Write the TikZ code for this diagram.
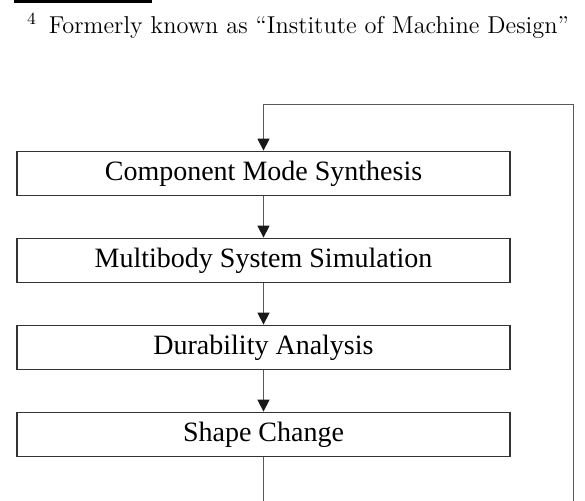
\documentclass[tikz,border=0pt]{standalone}
\usepackage{fontspec}
\newfontfamily\boxfont{Liberation Serif}
\usetikzlibrary{arrows.meta,
  positioning
}
\tikzstyle{stepbox} = [draw=black!80, line width=0.8, minimum width=246.5pt,
  minimum height=22pt, inner sep=0,
  font=\boxfont\fontsize{14}{16}\selectfont]
\tikzstyle{flow} = [draw=black!65, line width=0.7,
  -{Triangle[length=6pt,width=6pt,color=black!90]}]

\begin{document}
\begin{tikzpicture}[x=0.5pt, y=-0.5pt, node distance=20.7pt]
  \useasboundingbox (0,0) rectangle (585,501);

  % footnote
  \draw[line width=1.2] (14,1.5) -- (151.7,1.5);
  \path (26.7,33.3) node[anchor=base west, inner sep=0] (fnote)
  {\fontsize{12.2}{14}\selectfont\textsuperscript{4}\hspace{6pt}Formerly known as ``Institute of Machine Design''};

  % process chain
  \node[stepbox] (cms) at (263.5,173.4) {Component Mode Synthesis};
  \node[stepbox, below=of cms] (mbs) {Multibody System Simulation};
  \node[stepbox, below=of mbs] (dur) {Durability Analysis};
  \node[stepbox, below=of dur] (shape) {Shape Change};

  \draw[flow] (cms) -- (mbs);
  \draw[flow] (mbs) -- (dur);
  \draw[flow] (dur) -- (shape);

  % feedback loop
  \coordinate (chainbot) at (263.5,501);
  \coordinate (loopbot) at (573.7,501);
  \coordinate (looptop) at (573.7,104.7);
  \draw[draw=black!65, line width=0.7] (shape) -- (chainbot);
  \draw[flow] (loopbot) -- (looptop) -| (cms);
\end{tikzpicture}
\end{document}
